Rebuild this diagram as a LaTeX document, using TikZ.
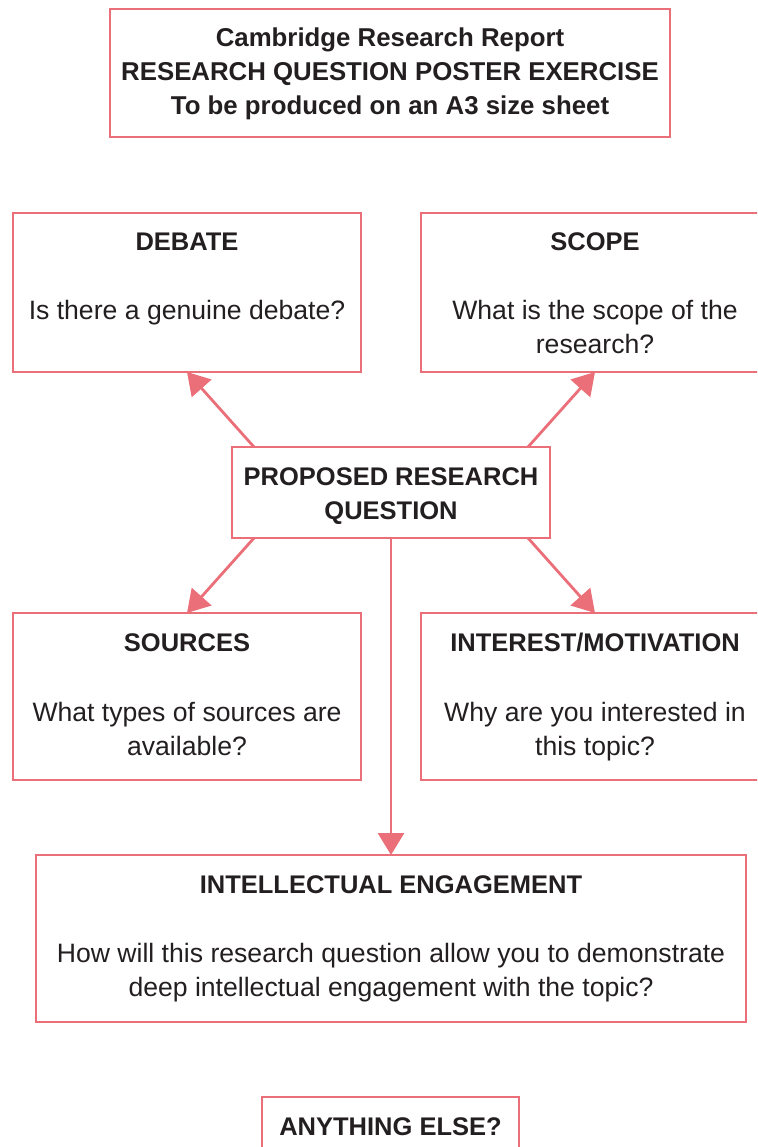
\documentclass[tikz,border=0pt]{standalone}
\usepackage{fontspec}
\setmainfont{Liberation Sans}
\usetikzlibrary{arrows.meta}
\definecolor{pinkline}{HTML}{EA6F79}
\definecolor{ink}{HTML}{231F20}
\begin{document}
\begin{tikzpicture}[x=1pt,y=-1pt,
  box/.style={draw=pinkline,line width=2.8pt,inner sep=0pt,outer sep=0pt},
  hd/.style={anchor=base,inner sep=0pt,text=ink,font=\fontsize{25.5}{30}\selectfont\bfseries},
  tt/.style={anchor=base,inner sep=0pt,text=ink,font=\fontsize{25.8}{30}\selectfont\bfseries},
  bd/.style={anchor=base,inner sep=0pt,text=ink,font=\fontsize{26.6}{34}\selectfont},
  arr/.style={draw=pinkline,line width=2.8pt,-{Triangle[length=22pt,width=26pt]}}]
\useasboundingbox (0,0) rectangle (757,1147);
\clip (0,0) rectangle (757,1147);

% title
\node[box,minimum width=560pt,minimum height=128pt] (title) at (390,73) {};
\node[tt] (t1) at (390,47) {Cambridge Research Report};
\node[tt] (t2) at (390,81) {RESEARCH QUESTION POSTER EXERCISE};
\node[tt] (t3) at (390,115) {To be produced on an A3 size sheet};

% debate
\node[box,minimum width=348pt,minimum height=159pt] (debate) at (187,292.5) {};
\node[hd] (debateh) at (187,251) {DEBATE};
\node[bd] (debateb) at (187,319) {Is there a genuine debate?};

% scope
\node[box,minimum width=348pt,minimum height=159pt] (scope) at (595,292.5) {};
\node[hd] (scopeh) at (595,251) {SCOPE};
\node[bd] (scopeb1) at (595,319) {What is the scope of the};
\node[bd] (scopeb2) at (595,353) {research?};

% proposed
\node[box,minimum width=318pt,minimum height=91pt] (prop) at (391,492.5) {};
\node[hd] (proph1) at (391,485) {PROPOSED RESEARCH};
\node[hd] (proph2) at (391,519) {QUESTION};

% sources
\node[box,minimum width=348pt,minimum height=167pt] (sources) at (187,696.5) {};
\node[hd] (sourcesh) at (187,651) {SOURCES};
\node[bd] (sourcesb1) at (187,721) {What types of sources are};
\node[bd] (sourcesb2) at (187,755) {available?};

% interest
\node[box,minimum width=348pt,minimum height=167pt] (interest) at (595,696.5) {};
\node[hd] (interesth) at (595,651) {INTEREST/MOTIVATION};
\node[bd] (interestb1) at (595,721) {Why are you interested in};
\node[bd] (interestb2) at (595,755) {this topic?};

% intellectual engagement
\node[box,minimum width=710pt,minimum height=167pt] (intel) at (391,938.5) {};
\node[hd] (intelh) at (391,893) {INTELLECTUAL ENGAGEMENT};
\node[bd] (intelb1) at (391,962) {How will this research question allow you to demonstrate};
\node[bd] (intelb2) at (391,996) {deep intellectual engagement with the topic?};

% anything else
\node[box,minimum width=257pt,minimum height=83pt] (anything) at (390.5,1138.5) {};
\node[hd] (anythingh) at (390.5,1135) {ANYTHING ELSE?};

% connectors
\draw[arr] ([xshift=22pt]prop.north west) -- (debate.south);
\draw[arr] ([xshift=-22pt]prop.north east) -- (scope.south);
\draw[arr] ([xshift=22pt]prop.south west) -- (sources.north);
\draw[arr] ([xshift=-22pt]prop.south east) -- (interest.north);
\draw[arr] (prop.south) -- (intel.north);
\end{tikzpicture}
\end{document}
